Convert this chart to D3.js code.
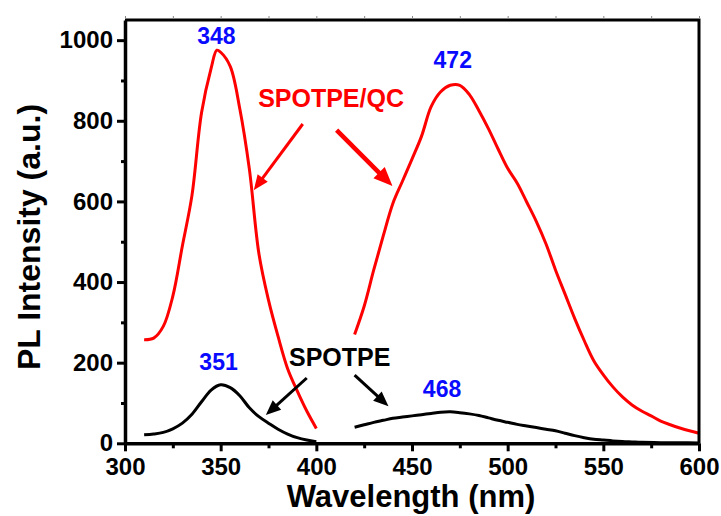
<!DOCTYPE html>
<html>
<head>
<meta charset="utf-8">
<script src="https://cdn.jsdelivr.net/npm/d3@7"></script>
<style>
  body { margin: 0; background: #fff; }
  text { font-family: Arial, "Liberation Sans", sans-serif; font-weight: bold; }
</style>
</head>
<body>
<div id="chart"></div>
<script>
// DATA
const spotpeQcWl1 = [310, 315, 320, 325, 330, 335, 340, 345, 348, 350, 355, 360, 365, 370, 375, 380, 385, 390, 395, 400];
const spotpeQcPL1 = [257, 261, 290, 365, 490, 615, 820, 930, 975, 970, 935, 830, 680, 470, 355, 265, 185, 130, 80, 37];

const spotpeQcWl2 = [420, 425, 430, 435, 440, 445, 450, 455, 460, 465, 470, 475, 480, 485, 490, 495, 500, 505, 510, 515, 520, 525, 530, 535, 540, 545, 550, 555, 560, 565, 570, 575, 580, 585, 590, 595, 600];
const spotpeQcPL2 = [270, 340, 430, 515, 595, 650, 705, 762, 835, 872, 888, 888, 865, 825, 780, 730, 682, 645, 598, 550, 495, 430, 370, 310, 255, 205, 170, 140, 115, 95, 80, 68, 55, 46, 38, 31, 25];

const spotpeWl1 = [310, 315, 320, 325, 330, 335, 340, 345, 350, 355, 360, 365, 370, 375, 380, 385, 390, 395, 400];
const spotpePL1 = [21, 23, 27, 36, 50, 72, 103, 132, 145, 138, 118, 88, 66, 50, 35, 23, 14, 8, 4];

const spotpeWl2 = [420, 425, 430, 435, 440, 445, 450, 455, 460, 465, 470, 475, 480, 485, 490, 495, 500, 505, 510, 515, 520, 525, 530, 535, 540, 545, 550, 555, 560, 565, 570, 580, 590, 600];
const spotpePL2 = [40, 46, 52, 57, 62, 65, 68, 71, 74, 77, 78, 76, 73, 69, 63, 57, 52, 47, 43, 39, 35, 31, 25, 19, 14, 10, 8, 6, 4.5, 3.5, 2.5, 1.5, 1.2, 1];

const xTicks = [300, 350, 400, 450, 500, 550, 600];
const yTicks = [0, 200, 400, 600, 800, 1000];

// peak labels: text, wavelength, intensity (label anchor)
const peakLabels = [
    { text: '348', wl: 347.8, val: 991 },
    { text: '472', wl: 471.3, val: 930 },
    { text: '351', wl: 348.9, val: 182 },
    { text: '468', wl: 465.7, val: 115 }
];
const seriesLabels = [
    { text: 'SPOTPE/QC', wl: 407.7, val: 835, color: '#ff0000' },
    { text: 'SPOTPE', wl: 412.2, val: 192, color: '#000000' }
];
// arrows in data units: from -> to
const arrows = [
    { x1: 392.9, y1: 792, x2: 367.3, y2: 628, color: '#ff0000', w: 3, head: 15 },
    { x1: 410.6, y1: 777, x2: 439.8, y2: 638, color: '#ff0000', w: 4.5, head: 19 },
    { x1: 395.0, y1: 162, x2: 373.6, y2: 70, color: '#000000', w: 3, head: 15 },
    { x1: 420.0, y1: 169, x2: 437.7, y2: 92, color: '#000000', w: 3, head: 15 }
];

// SETTINGS
const width = 721, height = 516;
const plot = { left: 125, right: 699, top: 20, bottom: 443.3 };

const x = d3.scaleLinear().domain([300, 600]).range([plot.left, plot.right]);
const y = d3.scaleLinear().domain([0, 1050]).range([plot.bottom, plot.top]);

const svg = d3.select('#chart').append('svg')
    .attr('width', width)
    .attr('height', height);

const line = d3.line()
    .x(d => x(d[0]))
    .y(d => y(d[1]))
    .curve(d3.curveCatmullRom.alpha(0.5));

const zip = (a, b) => a.map((v, i) => [v, b[i]]);

// curves
const curves = [
    { pts: zip(spotpeQcWl1, spotpeQcPL1), color: '#ff0000' },
    { pts: zip(spotpeQcWl2, spotpeQcPL2), color: '#ff0000' },
    { pts: zip(spotpeWl1, spotpePL1), color: '#000000' },
    { pts: zip(spotpeWl2, spotpePL2), color: '#000000' }
];
svg.append('g').selectAll('path')
    .data(curves)
    .enter().append('path')
    .attr('d', d => line(d.pts))
    .attr('fill', 'none')
    .attr('stroke', d => d.color)
    .attr('stroke-width', 3)
    .attr('stroke-linejoin', 'round');

// frame (top + right)
svg.append('path')
    .attr('d', `M${plot.left},${plot.top}H${plot.right}V${plot.bottom}`)
    .attr('fill', 'none')
    .attr('stroke', '#000')
    .attr('stroke-width', 3);

// top minor ticks
const topAxis = svg.append('g')
    .attr('transform', `translate(0,${plot.top - 1})`)
    .call(d3.axisTop(x).tickValues(d3.range(300, 601, 25)).tickSize(3).tickFormat(''));
topAxis.select('.domain').remove();
topAxis.selectAll('line').attr('stroke', '#888').attr('stroke-width', 1);

// bottom axis
const xMinor = svg.append('g')
    .attr('transform', `translate(0,${plot.bottom})`)
    .call(d3.axisBottom(x).tickValues(d3.range(325, 600, 50)).tickSize(5).tickFormat(''));
xMinor.select('.domain').remove();
xMinor.selectAll('line').attr('stroke', '#000').attr('stroke-width', 3);

const xAxis = svg.append('g')
    .attr('transform', `translate(0,${plot.bottom})`)
    .call(d3.axisBottom(x).tickValues(xTicks).tickSize(8).tickSizeOuter(0).tickPadding(7).tickFormat(d3.format('d')));
xAxis.select('.domain').attr('stroke', '#000').attr('stroke-width', 3.5);
xAxis.selectAll('line').attr('stroke', '#000').attr('stroke-width', 3);
xAxis.selectAll('text')
    .attr('font-size', 24)
    .attr('fill', '#000');

// left axis
const yMinor = svg.append('g')
    .attr('transform', `translate(${plot.left},0)`)
    .call(d3.axisLeft(y).tickValues(d3.range(100, 1050, 200)).tickSize(4).tickFormat(''));
yMinor.select('.domain').remove();
yMinor.selectAll('line').attr('stroke', '#000').attr('stroke-width', 3);

const yAxis = svg.append('g')
    .attr('transform', `translate(${plot.left},0)`)
    .call(d3.axisLeft(y).tickValues(yTicks).tickSize(8).tickSizeOuter(0).tickPadding(4).tickFormat(d3.format('d')));
yAxis.select('.domain').attr('stroke', '#000').attr('stroke-width', 3.5);
yAxis.selectAll('line').attr('stroke', '#000').attr('stroke-width', 3);
yAxis.selectAll('text')
    .attr('font-size', 24)
    .attr('fill', '#000');

// axis titles
svg.append('text')
    .attr('x', 411)
    .attr('y', 507)
    .attr('text-anchor', 'middle')
    .attr('font-size', 31)
    .text('Wavelength (nm)');

svg.append('text')
    .attr('transform', `translate(40,237) rotate(-90)`)
    .attr('text-anchor', 'middle')
    .attr('font-size', 32)
    .text('PL Intensity (a.u.)');

// peak labels
svg.append('g').selectAll('text')
    .data(peakLabels)
    .enter().append('text')
    .attr('x', d => x(d.wl))
    .attr('y', d => y(d.val))
    .attr('text-anchor', 'middle')
    .attr('font-size', 23)
    .attr('fill', '#0a0aff')
    .text(d => d.text);

// series labels
svg.append('g').selectAll('text')
    .data(seriesLabels)
    .enter().append('text')
    .attr('x', d => x(d.wl))
    .attr('y', d => y(d.val))
    .attr('text-anchor', 'middle')
    .attr('font-size', 25)
    .attr('fill', d => d.color)
    .text(d => d.text);

// arrows
const arrowG = svg.append('g');
arrows.forEach(a => {
    const x1 = x(a.x1), y1 = y(a.y1), x2 = x(a.x2), y2 = y(a.y2);
    const ang = Math.atan2(y2 - y1, x2 - x1);
    const hw = a.head * 0.42;
    const bx = x2 - a.head * Math.cos(ang), by = y2 - a.head * Math.sin(ang);
    arrowG.append('line')
        .attr('x1', x1).attr('y1', y1)
        .attr('x2', bx + 2 * Math.cos(ang)).attr('y2', by + 2 * Math.sin(ang))
        .attr('stroke', a.color)
        .attr('stroke-width', a.w);
    const px = -Math.sin(ang), py = Math.cos(ang);
    arrowG.append('path')
        .attr('d', `M${x2},${y2}L${bx + px * hw},${by + py * hw}L${bx - px * hw},${by - py * hw}Z`)
        .attr('fill', a.color);
});
</script>
</body>
</html>
